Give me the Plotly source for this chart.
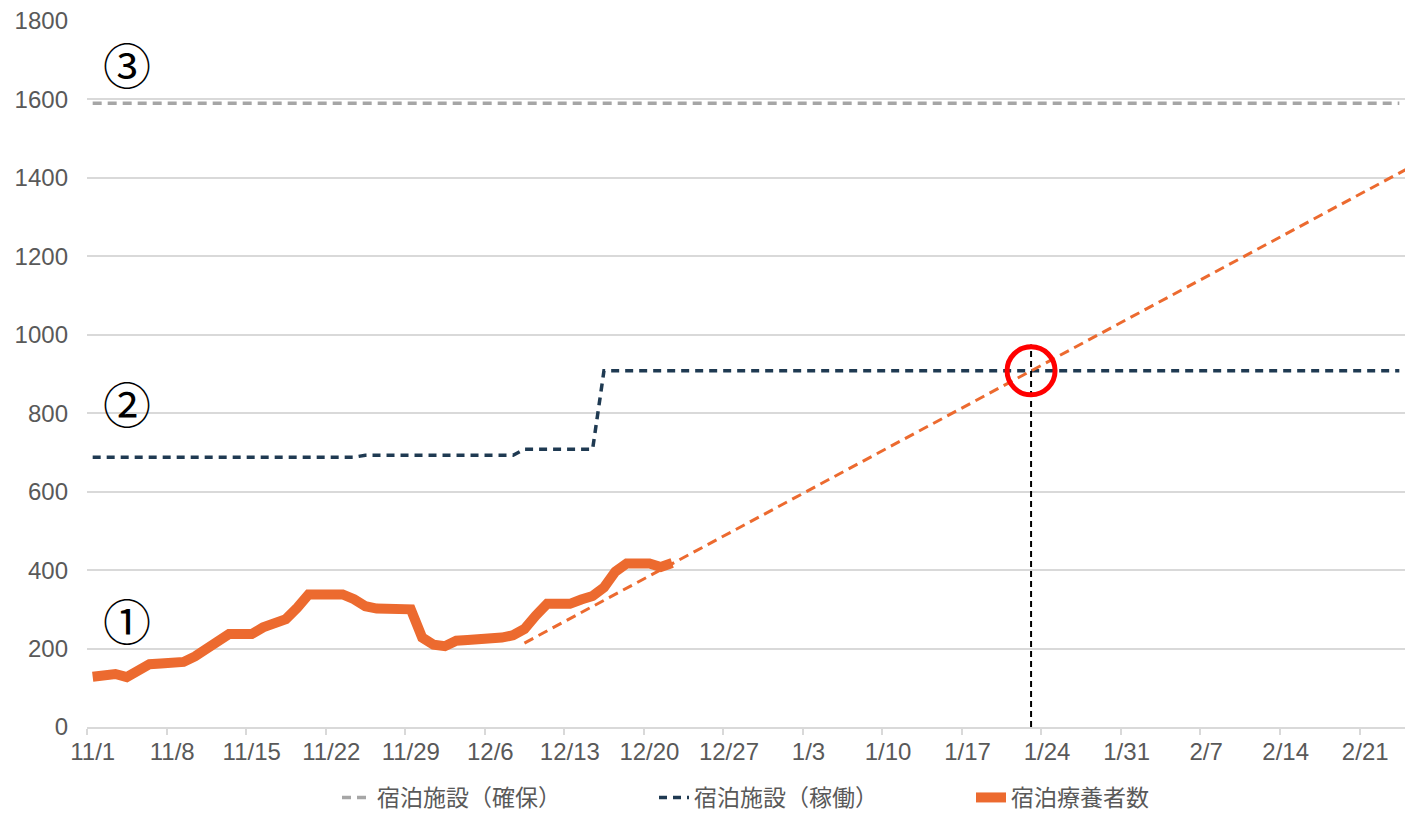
import plotly.graph_objects as go
from datetime import date, timedelta

# ---------------- data ----------------
START = date(2020, 11, 1)
N_DAYS = 116  # 11/1 .. 2/24
day_dates = [START + timedelta(days=i) for i in range(N_DAYS)]
day_labels = [f"{d.month}/{d.day}" for d in day_dates]

tick_labels = ["11/1", "11/8", "11/15", "11/22", "11/29", "12/6", "12/13", "12/20",
               "12/27", "1/3", "1/10", "1/17", "1/24", "1/31", "2/7", "2/14", "2/21"]

# 宿泊療養者数 (daily, from 11/1)
patients = [128, 134, 135, 127, 146, 160, 162, 162, 166, 180,
            200, 220, 237, 237, 237, 254, 262, 275, 304, 338,
            338, 338, 338, 326, 308, 302, 300, 300, 300, 228,
            210, 206, 220, 222, 222, 224, 228, 234, 250, 284,
            314, 314, 314, 325, 334, 356, 396, 417, 417, 417,
            408, 418]

# 宿泊施設（稼働） (daily, from 11/1)
operating = ([688] * 24 + [693] * 14 + [708] * 7 + [908] * 71)

# 宿泊施設（確保）
secured_value = 1590
secured = [secured_value] * N_DAYS

# projection of patients (start day, end day beyond axis)
trend_days = ["12/9", "2/25"]
trend_values = [214, 1428]

guide_top = 975  # top of the vertical guide line

# circled labels
label_texts = ["①", "②", "③"]
label_day = "11/4"
label_values = [275, 829, 1694]

# ---------------- helpers ----------------
def day_index(label):
    m, d = map(int, label.split("/"))
    year = 2020 if m >= 11 else 2021
    return (date(year, m, d) - START).days

x_all = list(range(N_DAYS))
trend_x = [day_index(t) for t in trend_days]
tick_x = [day_index(t) for t in tick_labels]

# intersection of projection with operating capacity
cap = operating[-1]
slope = (trend_values[1] - trend_values[0]) / (trend_x[1] - trend_x[0])
cross_x = trend_x[0] + (cap - trend_values[0]) / slope
cross_y = cap

ORANGE = "#EC6A2F"
NAVY = "#1F3A52"
GRAY = "#A6A6A6"
GRID = "#D9D9D9"
TXT = "#595959"

fig = go.Figure()
fig.add_trace(go.Scatter(x=x_all, y=secured, mode="lines", name="宿泊施設（確保）",
                         line=dict(color=GRAY, width=3.5, dash="9px,6px")))
fig.add_trace(go.Scatter(x=x_all, y=operating, mode="lines", name="宿泊施設（稼働）",
                         line=dict(color=NAVY, width=3.5, dash="8px,6px")))
fig.add_trace(go.Scatter(x=trend_x, y=trend_values, mode="lines", showlegend=False,
                         line=dict(color=ORANGE, width=3, dash="10px,6px")))
fig.add_trace(go.Scatter(x=list(range(len(patients))), y=patients, mode="lines",
                         name="宿泊療養者数", line=dict(color=ORANGE, width=10)))
fig.add_trace(go.Scatter(x=[cross_x, cross_x], y=[0, guide_top], mode="lines",
                         showlegend=False, line=dict(color="black", width=2, dash="6px,4px")))
fig.add_trace(go.Scatter(x=[cross_x], y=[cross_y], mode="markers", showlegend=False,
                         marker=dict(symbol="circle-open", size=48, color="#FF0000",
                                     line=dict(width=5, color="#FF0000"))))

for t, v in zip(label_texts, label_values):
    fig.add_annotation(x=day_index(label_day), y=v, text=t, showarrow=False,
                       font=dict(family="Noto Sans CJK JP", size=48, color="black"))

fig.update_layout(
    width=1405, height=819,
    margin=dict(l=87, r=0, t=21, b=92),
    paper_bgcolor="white", plot_bgcolor="white",
    font=dict(family="Liberation Sans, Arial, sans-serif", color=TXT, size=24),
    showlegend=True,
    legend=dict(orientation="h", x=(337 - 87) / 1318, xanchor="left",
                yref="container", y=-0.006, yanchor="bottom",
                font=dict(family="Noto Sans CJK JP", size=23, color=TXT),
                entrywidth=272, entrywidthmode="pixels",
                traceorder="normal"),
    xaxis=dict(range=[-0.5, N_DAYS - 0.5], tickmode="array", tickvals=tick_x,
               ticktext=tick_labels, ticks="", showgrid=False, zeroline=False,
               showline=True, linecolor=GRID, linewidth=1.5,
               tickfont=dict(size=24, color=TXT), ticklabelstandoff=2,
               minor=dict(tickmode="array", tickvals=[v - 0.5 for v in tick_x],
                          ticks="outside", ticklen=6, tickcolor=GRID, tickwidth=1.5,
                          showgrid=False)),
    yaxis=dict(range=[0, 1800], tickmode="linear", tick0=0, dtick=200, showgrid=True,
               gridcolor=GRID, gridwidth=1.5, zeroline=False, ticks="", showline=False,
               tickfont=dict(size=24, color=TXT), ticklabelstandoff=18),
)

fig.write_html("out.html", config={"displayModeBar": False},
               post_script="document.body.style.margin='0px';document.body.style.overflow='hidden';")
